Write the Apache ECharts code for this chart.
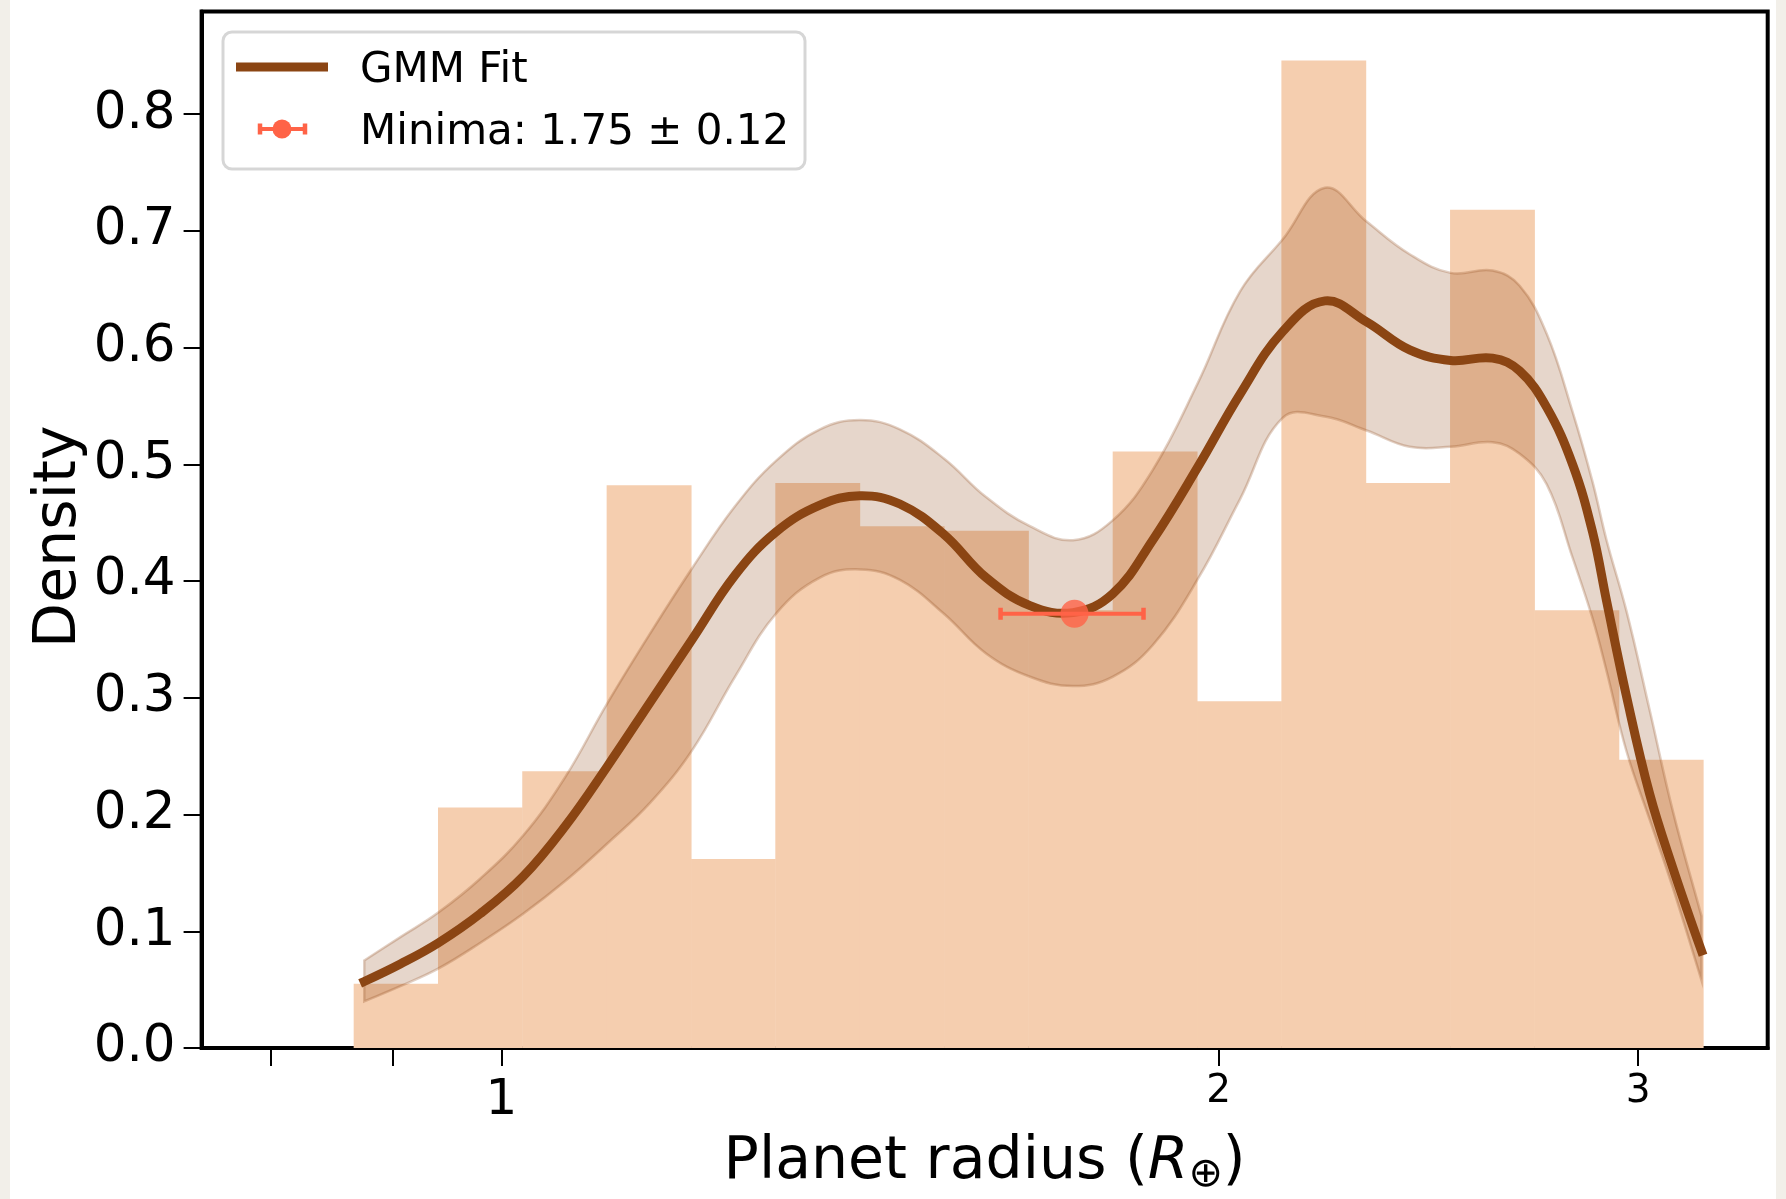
<!DOCTYPE html>
<html><head><meta charset="utf-8">
<script src="https://cdn.jsdelivr.net/npm/echarts@6/dist/echarts.min.js"></script>
<style>
html,body{margin:0;padding:0;background:#f2efe9;overflow:hidden;}
#wrap{position:absolute;left:10px;top:0;width:1766px;height:1199px;background:#ffffff;}
#chart{position:absolute;left:0;top:0;width:1786px;height:1199px;}
</style></head><body>
<div id="wrap"></div>
<div id="chart"></div>
<script>
// ---- data ----
const binEdges = [0.8670, 0.9406, 1.0204, 1.1071, 1.2012, 1.3031, 1.4138, 1.5339, 1.6641,
  1.8054, 1.9587, 2.1251, 2.3055, 2.5013, 2.7137, 2.9443, 3.1943];
const binDensity = [0.055, 0.206, 0.237, 0.482, 0.162, 0.484, 0.447, 0.443, 0.375,
  0.511, 0.297, 0.846, 0.484, 0.718, 0.375, 0.247];

const fitRadius = [0.8759, 0.9070, 0.9408, 0.9797, 1.0213, 1.0636, 1.1076, 1.1545, 1.2024,
  1.2533, 1.3039, 1.3605, 1.4141, 1.4698, 1.5337, 1.5974, 1.6667, 1.7375, 1.8053, 1.8765,
  1.9606, 2.0417, 2.1283, 2.2163, 2.3075, 2.4056, 2.5028, 2.6062, 2.6752, 2.7459, 2.8157,
  2.8706, 2.9097, 2.9665, 3.0331, 3.1013, 3.1894];
const fitMean = [0.057, 0.072, 0.090, 0.115, 0.147, 0.190, 0.241, 0.296, 0.350,
  0.405, 0.442, 0.465, 0.473, 0.466, 0.440, 0.403, 0.379, 0.373, 0.389, 0.435,
  0.498, 0.560, 0.614, 0.640, 0.622, 0.598, 0.589, 0.591, 0.580, 0.549, 0.500,
  0.442, 0.383, 0.301, 0.218, 0.155, 0.083];
const fitUpper = [0.075, 0.095, 0.116, 0.145, 0.182, 0.232, 0.295, 0.355, 0.411,
  0.464, 0.503, 0.530, 0.538, 0.530, 0.505, 0.472, 0.447, 0.435, 0.452, 0.495,
  0.570, 0.648, 0.693, 0.737, 0.708, 0.680, 0.664, 0.666, 0.653, 0.612, 0.545,
  0.485, 0.435, 0.374, 0.290, 0.204, 0.113];
const fitLower = [0.040, 0.053, 0.068, 0.090, 0.115, 0.143, 0.175, 0.210, 0.255,
  0.318, 0.372, 0.403, 0.410, 0.401, 0.372, 0.338, 0.318, 0.310, 0.318, 0.345,
  0.402, 0.470, 0.540, 0.541, 0.529, 0.515, 0.515, 0.519, 0.509, 0.483, 0.420,
  0.368, 0.323, 0.254, 0.196, 0.138, 0.058];

const minimaRadius = 1.74;
const minimaDensity = 0.372;
const minimaErr = 0.12;
const minimaLabel = 'Minima: 1.75 ± 0.12';
const fitLabel = 'GMM Fit';

const yTicks = [0, 0.1, 0.2, 0.3, 0.4, 0.5, 0.6, 0.7, 0.8];
const xMajorLabels = [1];
const xMinorLabels = [2, 3];
const xUnlabeledTicks = [0.8, 0.9];
const xRange = [0.7485, 3.400];
const yRange = [0, 0.888];

// ---- styling ----
const FONT = 'DejaVu Sans';
const BROWN = '#8B4513';
const TOMATO = '#FF6347';
const BAR = '#F5CEAF';

const chart = echarts.init(document.getElementById('chart'), null, {renderer: 'canvas'});

const histData = binDensity.map((h, i) => [binEdges[i], binEdges[i + 1], h]);
const bandData = fitRadius.map((r, i) => [r, fitLower[i], fitUpper[i]]);
const meanData = fitRadius.map((r, i) => [r, fitMean[i]]);

function near(v, arr) { return arr.some(a => Math.abs(a - v) < 1e-6); }
function dupEnds(pts) { return [pts[0]].concat(pts, [pts[pts.length - 1]]); }

const option = {
  backgroundColor: 'transparent',
  animation: false,
  grid: {
    left: 201.6, right: 18.3, top: 11.4, bottom: 151,
    containLabel: false, outerBoundsMode: 'none',
    show: true, backgroundColor: '#ffffff', borderColor: '#000', borderWidth: 4
  },
  xAxis: {
    type: 'log', logBase: 10, min: xRange[0], max: xRange[1],
    axisLine: {show: true, lineStyle: {color: '#000', width: 4}},
    splitLine: {show: false},
    minorTick: {show: false},
    axisTick: {show: true, length: 18, inside: false,
      customValues: [...xUnlabeledTicks, ...xMajorLabels, ...xMinorLabels],
      lineStyle: {color: '#000', width: 2}},
    axisLabel: {
      customValues: [...xMajorLabels, ...xMinorLabels],
      margin: 24,
      formatter: function (v) {
        const n = Math.round(v);
        return near(v, xMajorLabels) ? '{maj|' + n + '}' : '{mnr|' + n + '}';
      },
      rich: {
        maj: {fontSize: 50, lineHeight: 58, fontFamily: FONT, color: '#000'},
        mnr: {fontSize: 39, lineHeight: 40, fontFamily: FONT, color: '#000'}
      }
    },
    name: '{n|Planet radius (}{i|R}{s|⊕}{n|)}',
    nameLocation: 'middle',
    nameGap: 82,
    nameTextStyle: {
      rich: {
        n: {fontSize: 58.5, fontFamily: FONT, color: '#000', lineHeight: 66},
        i: {fontSize: 58.5, fontFamily: FONT, fontStyle: 'italic', color: '#000', lineHeight: 66},
        s: {fontSize: 41, fontFamily: FONT, color: '#000', lineHeight: 66, verticalAlign: 'bottom'}
      }
    }
  },
  yAxis: {
    type: 'value', min: yRange[0], max: yRange[1],
    axisLine: {show: true, lineStyle: {color: '#000', width: 4}},
    splitLine: {show: false},
    axisTick: {show: true, length: 18, customValues: yTicks, lineStyle: {color: '#000', width: 2}},
    axisLabel: {
      customValues: yTicks, margin: 26,
      fontSize: 51.5, fontFamily: FONT, color: '#000',
      formatter: v => v.toFixed(1)
    },
    name: 'Density', nameLocation: 'middle', nameGap: 112, nameRotate: 90,
    nameMoveOverlap: false,
    nameTextStyle: {fontSize: 58.5, fontFamily: FONT, color: '#000', padding: [0, 14, 0, 0]}
  },
  series: [
    {
      type: 'custom', name: 'hist', z: 1,
      data: histData,
      encode: {x: [0, 1], y: 2},
      renderItem: function (params, api) {
        const p0 = api.coord([api.value(0), api.value(2)]);
        const p1 = api.coord([api.value(1), 0]);
        return {
          type: 'rect',
          shape: {x: p0[0], y: p0[1], width: p1[0] - p0[0] + 0.5, height: p1[1] - p0[1]},
          style: {fill: BAR}
        };
      }
    },
    {
      type: 'custom', name: 'band', z: 2,
      data: bandData,
      encode: {x: 0, y: [1, 2]},
      renderItem: function (params, api) {
        if (params.dataIndex !== 0) return null;
        const up = fitRadius.map((r, i) => api.coord([r, fitUpper[i]]));
        const lo = fitRadius.map((r, i) => api.coord([r, fitLower[i]]));
        const poly = dupEnds(up).concat(dupEnds(lo.slice().reverse()));
        return {
          type: 'polygon', shape: {points: poly, smooth: 0.4},
          style: {fill: 'rgba(139,69,19,0.22)', stroke: 'rgba(139,69,19,0.25)', lineWidth: 2.5}
        };
      }
    },
    {
      type: 'custom', name: fitLabel, z: 5,
      data: meanData,
      encode: {x: 0, y: 1},
      renderItem: function (params, api) {
        if (params.dataIndex !== 0) return null;
        const pts = fitRadius.map((r, i) => api.coord([r, fitMean[i]]));
        return {
          type: 'polyline', shape: {points: pts, smooth: 0.4},
          style: {stroke: BROWN, lineWidth: 9, fill: null, lineCap: 'square', lineJoin: 'round'}
        };
      }
    },
    {
      type: 'custom', name: 'errbar', z: 8,
      data: [[minimaRadius, minimaDensity, minimaErr]],
      encode: {x: 0, y: 1},
      renderItem: function (params, api) {
        const r = api.value(0), y = api.value(1), e = api.value(2);
        const a = api.coord([r - e, y]);
        const b = api.coord([r + e, y]);
        return {
          type: 'group',
          children: [
            {type: 'line', shape: {x1: a[0], y1: a[1], x2: b[0], y2: b[1]}, style: {stroke: TOMATO, lineWidth: 4}},
            {type: 'line', shape: {x1: a[0], y1: a[1] - 6, x2: a[0], y2: a[1] + 6}, style: {stroke: TOMATO, lineWidth: 4.5}},
            {type: 'line', shape: {x1: b[0], y1: b[1] - 6, x2: b[0], y2: b[1] + 6}, style: {stroke: TOMATO, lineWidth: 4.5}}
          ]
        };
      }
    },
    {
      type: 'scatter', name: minimaLabel, z: 9,
      data: [[minimaRadius, minimaDensity]],
      symbol: 'circle', symbolSize: 28,
      itemStyle: {color: TOMATO}
    }
  ],
  graphic: [
    {type: 'rect', z: 100, shape: {x: 223, y: 32, width: 582, height: 137, r: 9},
      style: {fill: 'rgba(255,255,255,0.8)', stroke: 'rgba(204,204,204,0.8)', lineWidth: 3}},
    {type: 'line', z: 101, shape: {x1: 236, y1: 67, x2: 328, y2: 67},
      style: {stroke: BROWN, lineWidth: 9}},
    {type: 'text', z: 101, x: 360, y: 71,
      style: {text: fitLabel, fontSize: 42, fontFamily: FONT, fill: '#000', verticalAlign: 'middle'}},
    {type: 'line', z: 101, shape: {x1: 260, y1: 129, x2: 305, y2: 129},
      style: {stroke: TOMATO, lineWidth: 4}},
    {type: 'line', z: 101, shape: {x1: 260, y1: 123.5, x2: 260, y2: 134.5},
      style: {stroke: TOMATO, lineWidth: 4.5}},
    {type: 'line', z: 101, shape: {x1: 305, y1: 123.5, x2: 305, y2: 134.5},
      style: {stroke: TOMATO, lineWidth: 4.5}},
    {type: 'circle', z: 102, shape: {cx: 282, cy: 129, r: 9.5}, style: {fill: TOMATO}},
    {type: 'text', z: 101, x: 360, y: 133,
      style: {text: minimaLabel, fontSize: 42, fontFamily: FONT, fill: '#000', verticalAlign: 'middle'}}
  ]
};
chart.setOption(option);
</script>
</body></html>
